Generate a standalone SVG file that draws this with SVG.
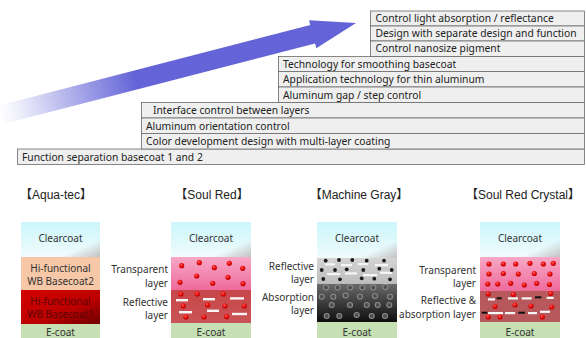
<svg xmlns="http://www.w3.org/2000/svg" width="586" height="338" viewBox="0 0 586 338">
<defs>
  <linearGradient id="arrowGrad" gradientUnits="userSpaceOnUse" x1="0" y1="115" x2="356" y2="23">
    <stop offset="0" stop-color="#6464d8" stop-opacity="0"/>
    <stop offset="0.05" stop-color="#6464d8" stop-opacity="0.1"/>
    <stop offset="0.38" stop-color="#6464d8" stop-opacity="1"/>
    <stop offset="1" stop-color="#6464d8" stop-opacity="1"/>
  </linearGradient>
  <linearGradient id="clear" x1="0" y1="0" x2="0" y2="1">
    <stop offset="0" stop-color="#cbf6fb"/>
    <stop offset="1" stop-color="#f1fbfc"/>
  </linearGradient>
  <linearGradient id="clearShade" x1="0" y1="0" x2="1" y2="1">
    <stop offset="0.75" stop-color="#bbbbbb" stop-opacity="0"/>
    <stop offset="1" stop-color="#bbbbbb" stop-opacity="0.9"/>
  </linearGradient>
  <linearGradient id="base1" x1="0" y1="0" x2="1" y2="1">
    <stop offset="0" stop-color="#d40000"/>
    <stop offset="0.6" stop-color="#bb0000"/>
    <stop offset="1" stop-color="#6e0000"/>
  </linearGradient>
  <linearGradient id="pink" x1="0" y1="0" x2="0" y2="1">
    <stop offset="0" stop-color="#f7a9c6"/>
    <stop offset="1" stop-color="#ee6a9b"/>
  </linearGradient>
  <linearGradient id="refl" x1="0" y1="0" x2="0" y2="1">
    <stop offset="0" stop-color="#c84649"/>
    <stop offset="1" stop-color="#c95457"/>
  </linearGradient>
  <linearGradient id="grayRefl" x1="0" y1="0" x2="0" y2="1">
    <stop offset="0" stop-color="#d4d4d4"/>
    <stop offset="1" stop-color="#bcbcbc"/>
  </linearGradient>
  <linearGradient id="grayAbs" x1="0" y1="0" x2="0" y2="1">
    <stop offset="0" stop-color="#6a6a6a"/>
    <stop offset="1" stop-color="#0e0e0e"/>
  </linearGradient>
  <radialGradient id="redDot" cx="0.4" cy="0.35" r="0.65">
    <stop offset="0" stop-color="#ff6a6a"/>
    <stop offset="0.45" stop-color="#f01010"/>
    <stop offset="1" stop-color="#b80000"/>
  </radialGradient>
</defs>
<style>
  .row{fill:#efefef;stroke:#6a6a6a;stroke-width:0.8}
  .t{font-family:"Noto Sans","Open Sans","DejaVu Sans",sans-serif;font-size:10.3px;fill:#222}
  .title{font-family:"Liberation Sans","Noto Sans CJK JP",sans-serif;font-size:12px;fill:#222;text-anchor:middle}
  .lbl{font-family:"Noto Sans","Open Sans",sans-serif;font-size:10px;fill:#333;text-anchor:end}
  .in{font-family:"Noto Sans","Open Sans",sans-serif;font-size:10px;fill:#333;text-anchor:middle}
  .dk{fill:#5a0606}
  .rd{fill:url(#redDot)}
  .wd{fill:#f6f6f6}
  .kd{fill:#111}
  .bd{fill:#1a1a1a}
  .gc{fill:#4e4e4e;stroke:#8c8c8c;stroke-width:1.1}
  .ecoat{fill:#c6e0b4}
</style>

<!-- rising arrow -->
<g id="arrow">
  <path d="M-2.4,105.8 L310.3,25.0 L309.1,20.2 L356,23 L316.3,48.2 L315.1,43.4 L2.4,124.2 Z" fill="url(#arrowGrad)"/>
</g>

<!-- technology staircase -->
<g id="tech-group-1">
  <rect class="row" x="17.5" y="149" width="567" height="15.5"/>
  <text class="t" x="22" y="160.5">Function separation basecoat 1 and 2</text>
</g>
<g id="tech-group-2">
  <rect class="row" x="141.5" y="102.5" width="443" height="15.5"/>
  <rect class="row" x="141.5" y="118" width="443" height="15.5"/>
  <rect class="row" x="141.5" y="133.5" width="443" height="15.5"/>
  <text class="t" x="153" y="114">Interface control between layers</text>
  <text class="t" x="146" y="129.5">Aluminum orientation control</text>
  <text class="t" x="146" y="145">Color development design with multi-layer coating</text>
</g>
<g id="tech-group-3">
  <rect class="row" x="278.5" y="56.5" width="306" height="15"/>
  <rect class="row" x="278.5" y="71.5" width="306" height="15.5"/>
  <rect class="row" x="278.5" y="87" width="306" height="15.5"/>
  <text class="t" x="283" y="67.5">Technology for smoothing basecoat</text>
  <text class="t" x="283" y="83">Application technology for thin aluminum</text>
  <text class="t" x="283" y="98.5">Aluminum gap / step control</text>
</g>
<g id="tech-group-4">
  <rect class="row" x="370.5" y="11" width="214" height="15"/>
  <rect class="row" x="370.5" y="26" width="214" height="15"/>
  <rect class="row" x="370.5" y="41" width="214" height="15.5"/>
  <text class="t" x="375.5" y="22">Control light absorption / reflectance</text>
  <text class="t" x="375.5" y="37">Design with separate design and function</text>
  <text class="t" x="375.5" y="52">Control nanosize pigment</text>
</g>

<!-- Aqua-tec stack -->
<g id="aqua-tec">
  <text class="title" x="56" y="198.5">【Aqua-tec】</text>
  <rect x="21" y="222" width="79" height="35" fill="url(#clear)"/>
  <rect x="21" y="222" width="79" height="35" fill="url(#clearShade)"/>
  <rect x="21" y="257" width="79" height="33" fill="#f7c8a8"/>
  <rect x="21" y="290" width="79" height="34" fill="url(#base1)"/>
  <rect class="ecoat" x="21" y="324" width="79" height="14"/>
  <text class="in" x="60.5" y="241.5">Clearcoat</text>
  <text class="in" x="60.5" y="271.5">Hi-functional</text>
  <text class="in" x="60.5" y="284.5">WB Basecoat2</text>
  <text class="in dk" x="60.5" y="305">Hi-functional</text>
  <text class="in dk" x="60.5" y="318">WB Basecoat1</text>
  <text class="in" x="60.5" y="336">E-coat</text>
</g>

<!-- Soul Red stack -->
<g id="soul-red">
  <text class="title" x="212" y="198.5">【Soul Red】</text>
  <rect x="171" y="222" width="80" height="35" fill="url(#clear)"/>
  <rect x="171" y="222" width="80" height="35" fill="url(#clearShade)"/>
  <rect x="171" y="257" width="80" height="33" fill="url(#pink)"/>
  <rect x="171" y="290" width="80" height="33" fill="url(#refl)"/>
  <rect class="ecoat" x="171" y="323" width="80" height="15"/>
  <text class="in" x="211" y="241.5">Clearcoat</text>
  <text class="in" x="211" y="336">E-coat</text>
  <text class="lbl" x="168" y="273">Transparent</text>
  <text class="lbl" x="168" y="286.5">layer</text>
  <text class="lbl" x="168" y="305.5">Reflective</text>
  <text class="lbl" x="168" y="319">layer</text>
  <g>
    <circle class="rd" cx="181.7" cy="265.7" r="2.6"/>
    <circle class="rd" cx="199.3" cy="262.7" r="2.6"/>
    <circle class="rd" cx="214.3" cy="267.7" r="2.6"/>
    <circle class="rd" cx="229.3" cy="263.3" r="2.6"/>
    <circle class="rd" cx="242.7" cy="268.3" r="2.6"/>
    <circle class="rd" cx="196.7" cy="276" r="2.6"/>
    <circle class="rd" cx="180" cy="282.3" r="2.6"/>
    <circle class="rd" cx="212.7" cy="283.3" r="2.6"/>
    <circle class="rd" cx="228" cy="277.3" r="2.6"/>
    <circle class="rd" cx="243" cy="283.7" r="2.6"/>
  </g>
  <g>
    <rect class="wd" x="176" y="299" width="12" height="2.4"/>
    <rect class="wd" x="203" y="298" width="12" height="2.4"/>
    <rect class="wd" x="230" y="297.2" width="14" height="2.4"/>
    <rect class="wd" x="179" y="311" width="13" height="2.4"/>
    <rect class="wd" x="207" y="309.6" width="12" height="2.4"/>
    <rect class="wd" x="232" y="312.8" width="15" height="2.4"/>
    <circle class="rd" cx="181" cy="294" r="2.6"/>
    <circle class="rd" cx="197.3" cy="294" r="2.6"/>
    <circle class="rd" cx="223.3" cy="294" r="2.6"/>
    <circle class="rd" cx="183.3" cy="306" r="2.6"/>
    <circle class="rd" cx="207.7" cy="305" r="2.6"/>
    <circle class="rd" cx="225" cy="306" r="2.6"/>
    <circle class="rd" cx="244.3" cy="306" r="2.6"/>
    <circle class="rd" cx="186" cy="317" r="2.6"/>
    <circle class="rd" cx="204" cy="317" r="2.6"/>
    <circle class="rd" cx="226.7" cy="316.7" r="2.6"/>
  </g>
</g>

<!-- Machine Gray stack -->
<g id="machine-gray">
  <text class="title" x="359" y="198.5">【Machine Gray】</text>
  <rect x="317" y="222" width="80" height="36" fill="url(#clear)"/>
  <rect x="317" y="222" width="80" height="36" fill="url(#clearShade)"/>
  <rect x="317" y="258" width="80" height="26" fill="url(#grayRefl)"/>
  <rect x="317" y="284" width="80" height="38" fill="url(#grayAbs)"/>
  <rect class="ecoat" x="317" y="322" width="80" height="16"/>
  <text class="in" x="357" y="241.5">Clearcoat</text>
  <text class="in" x="357" y="335.5">E-coat</text>
  <text class="lbl" x="314" y="270">Reflective</text>
  <text class="lbl" x="314" y="283">layer</text>
  <text class="lbl" x="314" y="301">Absorption</text>
  <text class="lbl" x="314" y="314">layer</text>
  <g>
    <rect class="wd" x="325" y="263.3" width="10" height="2.2"/>
    <rect class="wd" x="341" y="264" width="11" height="2.2"/>
    <rect class="wd" x="358" y="263" width="10" height="2.2"/>
    <rect class="wd" x="375" y="264" width="13" height="2.2"/>
    <rect class="wd" x="327" y="273" width="13" height="2.2"/>
    <rect class="wd" x="345" y="272.3" width="12" height="2.2"/>
    <rect class="wd" x="363" y="274" width="14" height="2.2"/>
    <rect class="wd" x="380" y="271.7" width="12" height="2.2"/>
    <circle class="bd" cx="325.7" cy="260.7" r="1.9"/>
    <circle class="bd" cx="339" cy="260" r="1.9"/>
    <circle class="bd" cx="352.3" cy="260" r="1.9"/>
    <circle class="bd" cx="366.7" cy="260.7" r="1.9"/>
    <circle class="bd" cx="384" cy="260.7" r="1.9"/>
    <circle class="bd" cx="321.7" cy="270" r="1.9"/>
    <circle class="bd" cx="335" cy="270" r="1.9"/>
    <circle class="bd" cx="346.7" cy="269.3" r="1.9"/>
    <circle class="bd" cx="363.3" cy="270" r="1.9"/>
    <circle class="bd" cx="379.3" cy="268.7" r="1.9"/>
    <circle class="bd" cx="391.7" cy="270" r="1.9"/>
    <circle class="bd" cx="323.3" cy="279" r="1.9"/>
    <circle class="bd" cx="340" cy="279.3" r="1.9"/>
    <circle class="bd" cx="361.7" cy="278.3" r="1.9"/>
    <circle class="bd" cx="374.3" cy="278.7" r="1.9"/>
    <circle class="bd" cx="390" cy="279.3" r="1.9"/>
  </g>
  <g>
    <circle class="gc" cx="326" cy="287.5" r="2.5"/>
    <circle class="gc" cx="337.7" cy="287.5" r="2.5"/>
    <circle class="gc" cx="350" cy="287.5" r="2.5"/>
    <circle class="gc" cx="362.3" cy="287.5" r="2.5"/>
    <circle class="gc" cx="373.3" cy="287.5" r="2.5"/>
    <circle class="gc" cx="385.3" cy="287" r="2.5"/>
    <circle class="gc" cx="321.7" cy="296.7" r="2.5"/>
    <circle class="gc" cx="333.3" cy="296.7" r="2.5"/>
    <circle class="gc" cx="345.7" cy="295.5" r="2.5"/>
    <circle class="gc" cx="360" cy="296.7" r="2.5"/>
    <circle class="gc" cx="375" cy="296" r="2.5"/>
    <circle class="gc" cx="390" cy="296.7" r="2.5"/>
    <circle class="gc" cx="331.7" cy="305" r="2.5"/>
    <circle class="gc" cx="350" cy="305" r="2.5"/>
    <circle class="gc" cx="366.7" cy="305" r="2.5"/>
    <circle class="gc" cx="377.7" cy="305" r="2.5"/>
    <circle class="gc" cx="389.3" cy="305" r="2.5"/>
    <circle class="gc" cx="326.7" cy="316" r="2.5"/>
    <circle class="gc" cx="339.3" cy="316" r="2.5"/>
    <circle class="gc" cx="356.7" cy="315" r="2.5"/>
    <circle class="gc" cx="371.7" cy="316" r="2.5"/>
    <circle class="gc" cx="385" cy="316" r="2.5"/>
  </g>
</g>

<!-- Soul Red Crystal stack -->
<g id="soul-red-crystal">
  <text class="title" x="523" y="198.5">【Soul Red Crystal】</text>
  <rect x="480" y="222" width="80" height="35" fill="url(#clear)"/>
  <rect x="480" y="222" width="80" height="35" fill="url(#clearShade)"/>
  <rect x="480" y="257" width="80" height="34" fill="url(#pink)"/>
  <rect x="480" y="291" width="80" height="31" fill="#b7585c"/>
  <rect class="ecoat" x="480" y="322" width="80" height="16"/>
  <text class="in" x="520" y="241.5">Clearcoat</text>
  <text class="in" x="520" y="335.5">E-coat</text>
  <text class="lbl" x="476" y="273.5">Transparent</text>
  <text class="lbl" x="476" y="287">layer</text>
  <text class="lbl" x="476" y="304">Reflective &amp;</text>
  <text class="lbl" x="476" y="317.5">absorption layer</text>
  <g>
    <circle class="rd" cx="489" cy="264" r="2.6"/>
    <circle class="rd" cx="503.3" cy="264" r="2.6"/>
    <circle class="rd" cx="515.7" cy="264" r="2.6"/>
    <circle class="rd" cx="530" cy="263.3" r="2.6"/>
    <circle class="rd" cx="543.3" cy="264" r="2.6"/>
    <circle class="rd" cx="553.3" cy="263.3" r="2.6"/>
    <circle class="rd" cx="489" cy="274" r="2.6"/>
    <circle class="rd" cx="503.3" cy="273.5" r="2.6"/>
    <circle class="rd" cx="518.3" cy="274" r="2.6"/>
    <circle class="rd" cx="534.3" cy="273.5" r="2.6"/>
    <circle class="rd" cx="550" cy="274" r="2.6"/>
    <circle class="rd" cx="487.7" cy="284" r="2.6"/>
    <circle class="rd" cx="497.7" cy="284" r="2.6"/>
    <circle class="rd" cx="510.7" cy="283.3" r="2.6"/>
    <circle class="rd" cx="524.3" cy="285" r="2.6"/>
    <circle class="rd" cx="536.7" cy="283.3" r="2.6"/>
    <circle class="rd" cx="549.5" cy="284.5" r="2.6"/>
  </g>
  <g>
    <rect class="wd" x="488" y="298.3" width="7" height="2.2"/>
    <rect class="wd" x="508" y="297.3" width="10" height="2.2"/>
    <rect class="wd" x="521.7" y="297.3" width="10" height="2.2"/>
    <rect class="wd" x="546.7" y="296.8" width="7" height="2.2"/>
    <rect class="wd" x="488" y="312" width="15" height="2.2"/>
    <rect class="wd" x="505" y="312" width="10" height="2.2"/>
    <rect class="wd" x="528" y="312" width="9" height="2.2"/>
    <rect class="wd" x="540" y="310.7" width="10" height="2.2"/>
    <rect class="kd" x="496.7" y="297.3" width="5" height="2"/>
    <rect class="kd" x="535" y="296.3" width="6.5" height="2"/>
    <rect class="kd" x="481.7" y="311.7" width="5.6" height="2"/>
    <rect class="kd" x="518.3" y="311.7" width="6.7" height="2"/>
    <circle class="rd" cx="488.3" cy="294" r="2.6"/>
    <circle class="rd" cx="513.3" cy="294.5" r="2.6"/>
    <circle class="rd" cx="550.7" cy="293.5" r="2.6"/>
    <circle class="rd" cx="495" cy="306.5" r="2.6"/>
    <circle class="rd" cx="515" cy="305" r="2.6"/>
    <circle class="rd" cx="531" cy="306" r="2.6"/>
    <circle class="rd" cx="551.7" cy="307" r="2.6"/>
    <circle class="rd" cx="488.3" cy="317" r="2.6"/>
    <circle class="rd" cx="500" cy="317" r="2.6"/>
    <circle class="rd" cx="542.3" cy="317" r="2.6"/>
  </g>
</g>
</svg>
